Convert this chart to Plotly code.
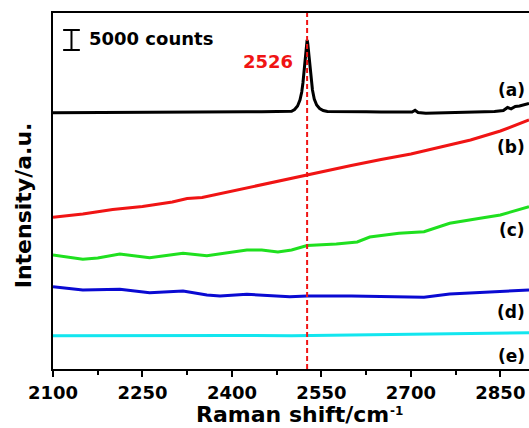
import plotly.graph_objects as go

# Raman spectra (counts) for samples (a)-(e)
wn_a = [2100, 2125, 2150, 2175, 2200, 2225, 2240, 2255, 2275, 2300, 2325, 2350, 2375,
        2400, 2425, 2450, 2475, 2490, 2500, 2505, 2510, 2514, 2517, 2519, 2521, 2523,
        2525, 2526, 2527, 2529, 2531, 2533, 2535, 2538, 2542, 2547, 2553, 2560, 2575,
        2600, 2625, 2650, 2675, 2695, 2702, 2707, 2712, 2725, 2750, 2775, 2800, 2825,
        2840, 2855, 2862, 2868, 2875, 2882, 2890, 2898]
int_a = [64080, 64100, 64125, 64150, 64175, 64250, 64325, 64150, 64200, 64250, 64275, 64250, 64275,
         64300, 64325, 64300, 64375, 64375, 64450, 64875, 65750, 67250, 69250, 71500, 74500, 78000,
         81250, 82250, 81500, 78750, 75250, 72250, 69750, 67500, 66000, 65125, 64625, 64375, 64325,
         64300, 64300, 64275, 64325, 64275, 64250, 64675, 64125, 63925, 64000, 64000, 64125, 64250,
         64375, 64625, 65375, 65050, 65625, 65750, 66125, 66375]

wn_b = [2100, 2150, 2200, 2250, 2300, 2325, 2350, 2400, 2450, 2500, 2550, 2600, 2650,
        2700, 2750, 2800, 2850, 2898]
int_b = [37925, 38750, 39875, 40625, 41750, 42625, 42875, 44500, 46000, 47625, 49250, 50875, 52375,
         53750, 55500, 57250, 59500, 62250]

wn_c = [2100, 2150, 2175, 2212, 2262, 2318, 2358, 2425, 2450, 2477, 2500, 2526, 2575,
        2610, 2631, 2680, 2722, 2765, 2816, 2850, 2898]
int_c = [28500, 27425, 27750, 28750, 27825, 28925, 28325, 29750, 29750, 29250, 29750, 30875, 31250,
         31750, 33000, 33925, 34325, 36425, 37675, 38500, 40575]

wn_d = [2100, 2150, 2212, 2262, 2318, 2358, 2380, 2425, 2497, 2526, 2600, 2680, 2722,
        2765, 2850, 2898]
int_d = [20575, 19750, 19925, 19075, 19500, 18500, 18250, 18675, 18075, 18250, 18250, 18075, 17925,
         18750, 19325, 19750]

wn_e = [2100, 2200, 2300, 2400, 2500, 2600, 2700, 2800, 2898]
int_e = [8325, 8375, 8425, 8375, 8325, 8450, 8625, 8875, 9075]

series_labels = ["(a)", "(b)", "(c)", "(d)", "(e)"]
label_y = [69750, 55500, 34750, 14375, 3250]

peak_position = 2526
scale_counts = 5000
scale_base = 79750

x_ticks = [2100, 2250, 2400, 2550, 2700, 2850]

FONT = "DejaVu Sans"
colors = ["#000000", "#f01414", "#1fe01f", "#0a0ad2", "#12e6ef"]

fig = go.Figure()
for wn, inten, col in zip([wn_a, wn_b, wn_c, wn_d, wn_e],
                          [int_a, int_b, int_c, int_d, int_e], colors):
    fig.add_trace(go.Scatter(x=wn, y=inten, mode="lines",
                             line=dict(color=col, width=3), showlegend=False))

# peak marker
fig.add_shape(type="line", xref="x", yref="paper", x0=peak_position, x1=peak_position,
              y0=0, y1=1, line=dict(color="#f01414", width=2, dash="5px,3px"))

# 5000-count scale bar
for y0, y1, xa, xb in [(scale_base, scale_base + scale_counts, 2131, 2131),
                       (scale_base, scale_base, 2117, 2145),
                       (scale_base + scale_counts, scale_base + scale_counts, 2117, 2145)]:
    fig.add_shape(type="line", xref="x", yref="y", x0=xa, x1=xb, y0=y0, y1=y1,
                  line=dict(color="black", width=2))

fig.add_annotation(x=0.0714, xref="paper", y=scale_base + scale_counts * 0.58, yref="y",
                   text=f"{scale_counts} counts", showarrow=False, xanchor="left",
                   yanchor="middle",
                   font=dict(family=FONT, size=18, color="black", weight="bold"))

fig.add_annotation(x=2460, xref="x", y=76825, yref="y", text=str(peak_position),
                   showarrow=False, xanchor="center", yanchor="middle",
                   font=dict(family=FONT, size=18, color="#f01414", weight="bold"))

for lab, ly in zip(series_labels, label_y):
    fig.add_annotation(x=0.996, xref="paper", y=ly, yref="y", text=lab, showarrow=False,
                       xanchor="right", yanchor="middle",
                       font=dict(family=FONT, size=17, color="black", weight="bold"))

# axis titles (the wavenumber exponent is set as its own small label)
fig.add_annotation(x=0.2983, xref="paper", y=-0.1657, yref="paper",
                   text="Raman shift/cm", showarrow=False,
                   xanchor="left", yanchor="bottom", borderpad=0,
                   font=dict(family=FONT, size=22, color="black", weight="bold"))
fig.add_annotation(x=0.7059, xref="paper", y=-0.118, yref="paper",
                   text="-1", showarrow=False,
                   xanchor="left", yanchor="middle", borderpad=0,
                   font=dict(family=FONT, size=12, color="black", weight="bold"))
fig.add_annotation(x=-0.063, xref="paper", y=0.46, yref="paper",
                   text="Intensity/a.u.", showarrow=False, textangle=-90,
                   xanchor="center", yanchor="middle",
                   font=dict(family=FONT, size=22, color="black", weight="bold"))

fig.update_xaxes(range=[2100, 2898], tickvals=x_ticks, ticktext=[str(t) for t in x_ticks],
                 ticks="outside", ticklen=6, tickwidth=2, tickcolor="black",
                 ticklabelstandoff=0,
                 minor=dict(tickvals=[2175, 2325, 2475, 2625, 2775], ticks="outside",
                            ticklen=4, tickwidth=2, tickcolor="black"),
                 showline=True, linewidth=2, linecolor="black", mirror=True,
                 showgrid=False, zeroline=False,
                 tickfont=dict(family=FONT, size=18, color="black", weight="bold"))
fig.update_yaxes(range=[0, 89000], showticklabels=False, ticks="",
                 showline=True, linewidth=2, linecolor="black", mirror=False,
                 showgrid=False, zeroline=False)

fig.update_layout(width=529, height=428, margin=dict(l=53, r=0, t=13, b=59),
                  plot_bgcolor="white", paper_bgcolor="white")

fig.write_html("out.html", config={"displayModeBar": False})
